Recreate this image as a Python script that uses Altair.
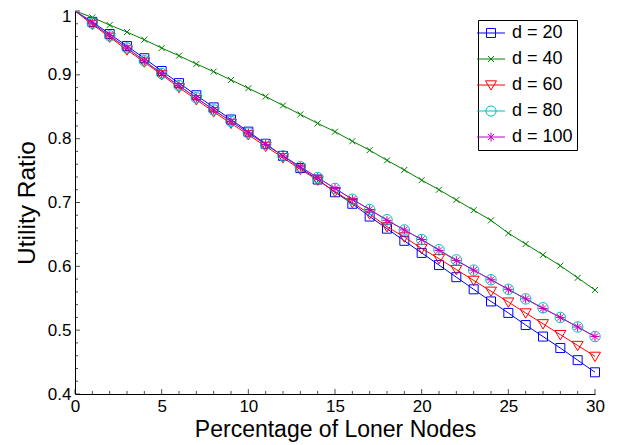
import altair as alt
import pandas as pd

# ---------------- data ----------------
pct_loner = list(range(31))

d20 = [1.0, 0.983, 0.964, 0.945, 0.926, 0.906, 0.887, 0.868, 0.849, 0.830, 0.811,
       0.792, 0.773, 0.754, 0.736, 0.716, 0.698, 0.678, 0.659, 0.640, 0.621,
       0.602, 0.583, 0.564, 0.545, 0.527, 0.508, 0.490, 0.472, 0.453, 0.434]
d40 = [1.0, 0.990, 0.978, 0.967, 0.955, 0.942, 0.930, 0.917, 0.905, 0.892, 0.879,
       0.866, 0.852, 0.838, 0.824, 0.811, 0.796, 0.782, 0.766, 0.751, 0.735,
       0.720, 0.704, 0.688, 0.672, 0.652, 0.635, 0.618, 0.601, 0.582, 0.563]
d60 = [1.0, 0.979, 0.959, 0.939, 0.920, 0.900, 0.880, 0.861, 0.842, 0.824, 0.806,
       0.788, 0.770, 0.752, 0.735, 0.717, 0.700, 0.682, 0.662, 0.646, 0.628,
       0.612, 0.595, 0.578, 0.561, 0.544, 0.527, 0.510, 0.493, 0.476, 0.459]
d80 = [1.0, 0.981, 0.961, 0.942, 0.922, 0.902, 0.883, 0.864, 0.845, 0.827, 0.809,
       0.791, 0.773, 0.756, 0.739, 0.722, 0.705, 0.689, 0.673, 0.657, 0.642,
       0.626, 0.610, 0.594, 0.579, 0.564, 0.549, 0.535, 0.520, 0.505, 0.490]
d100 = [1.0, 0.981, 0.961, 0.942, 0.922, 0.902, 0.883, 0.864, 0.845, 0.827, 0.809,
        0.791, 0.773, 0.756, 0.739, 0.722, 0.705, 0.689, 0.672, 0.657, 0.642,
        0.625, 0.609, 0.594, 0.579, 0.564, 0.549, 0.534, 0.520, 0.505, 0.490]

series_names = ["d = 20", "d = 40", "d = 60", "d = 80", "d = 100"]
series_values = [d20, d40, d60, d80, d100]
series_colors = ["#0000ff", "#008000", "#ff0000", "#00bfbf", "#bf00bf"]

x_major = [0, 5, 10, 15, 20, 25, 30]
x_minor = [v for v in range(31) if v % 5 != 0]
y_major = [0.4, 0.5, 0.6, 0.7, 0.8, 0.9, 1.0]
y_minor = [round(0.4 + 0.02 * i, 2) for i in range(31) if i % 5 != 0]

# ---------------- styling ----------------
W, H = 520, 383
FONT = "Liberation Sans"

marker_shapes = [
    "square",
    "M-1,-1L1,1M-1,1L1,-1",
    "M-1,-0.75H1L0,0.95Z",
    "circle",
    "M0,-1V1M-1,0H1M-0.7,-0.7L0.7,0.7M-0.7,0.7L0.7,-0.7",
]
marker_sizes = [81, 36, 121, 110, 81]

# legend symbols: unit = 6 px (symbolSize 144), line spans 28 px
legend_shapes = [
    "M-2.33,0H2.33M-0.75,-0.75H0.75V0.75H-0.75Z",
    "M-2.33,0H2.33M-0.5,-0.5L0.5,0.5M-0.5,0.5L0.5,-0.5",
    "M-2.33,0H2.33M-0.92,-0.7H0.92L0,0.85Z",
    "M-2.33,0H2.33M-0.85,0A0.85,0.85,0,1,0,0.85,0A0.85,0.85,0,1,0,-0.85,0",
    "M-2.33,0H2.33M0,-0.75V0.75M-0.53,-0.53L0.53,0.53M-0.53,0.53L0.53,-0.53",
]

rows = []
for name, vals in zip(series_names, series_values):
    for xv, yv in zip(pct_loner, vals):
        rows.append({"x": xv, "y": yv, "series": name})
df = pd.DataFrame(rows)

xs = alt.Scale(domain=[0, 30], nice=False, zero=False)
ys = alt.Scale(domain=[0.4, 1.0], nice=False, zero=False)

x_axis = alt.Axis(values=x_major, ticks=False, grid=False, domainColor="black",
                  labelFontSize=17, labelPadding=4, labelFlush=False,
                  labelColor="black", labelFont=FONT,
                  title="Percentage of Loner Nodes", titleFontSize=23,
                  titleFontWeight="normal", titleFont=FONT, titleColor="black",
                  titlePadding=4)
y_axis = alt.Axis(values=y_major, ticks=False, grid=False, domainColor="black",
                  labelFontSize=17, labelPadding=4, labelFlush=False,
                  labelColor="black", labelFont=FONT,
                  labelOffset={"condition": {"test": "datum.value == 1", "value": 5}, "value": 0},
                  labelExpr="datum.value == 1 ? '1' : format(datum.value, '.1f')",
                  title="Utility Ratio", titleFontSize=24.5,
                  titleFontWeight="normal", titleFont=FONT, titleColor="black",
                  titlePadding=8)

X = alt.X("x:Q", scale=xs, axis=x_axis)
Y = alt.Y("y:Q", scale=ys, axis=y_axis)

layers = []
for name, col, shp, sz in zip(series_names, series_colors, marker_shapes, marker_sizes):
    sub = alt.Chart(df).transform_filter(alt.datum.series == name)
    layers.append(sub.mark_line(color=col, strokeWidth=1, clip=True).encode(x=X, y=Y))
    layers.append(
        sub.transform_filter(alt.datum.x >= 1)
        .mark_point(shape=shp, size=sz, color=col, filled=False, strokeWidth=1, opacity=1)
        .encode(x=X, y=Y)
    )

# legend-only layer (no visible data)
legend_layer = (
    alt.Chart(df)
    .transform_filter(alt.datum.x < 0)
    .mark_point(filled=False, strokeWidth=1)
    .encode(
        x=X, y=Y,
        color=alt.Color("series:N", scale=alt.Scale(domain=series_names, range=series_colors),
                        legend=alt.Legend(title=None)),
        shape=alt.Shape("series:N", scale=alt.Scale(domain=series_names, range=legend_shapes),
                        legend=alt.Legend(title=None)),
    )
)

# inward tick marks
ticks_xM = alt.Chart(pd.DataFrame({"x": x_major})).mark_tick(
    orient="vertical", size=5, thickness=1, color="black").encode(x=X, y=alt.value(H - 2.5))
ticks_xm = alt.Chart(pd.DataFrame({"x": x_minor})).mark_tick(
    orient="vertical", size=3, thickness=1, color="black").encode(x=X, y=alt.value(H - 1.5))
ticks_yM = alt.Chart(pd.DataFrame({"y": y_major})).mark_tick(
    orient="horizontal", size=5, thickness=1, color="black").encode(y=Y, x=alt.value(2.5))
ticks_ym = alt.Chart(pd.DataFrame({"y": y_minor})).mark_tick(
    orient="horizontal", size=3, thickness=1, color="black").encode(y=Y, x=alt.value(1.5))

chart = (
    alt.layer(ticks_xM, ticks_xm, ticks_yM, ticks_ym, *layers, legend_layer)
    .properties(width=W, height=H, autosize="none",
                padding={"left": 67, "top": 3, "right": 15, "bottom": 48})
    .configure_view(stroke=None)
    .configure_legend(
        orient="none", legendX=403, legendY=9,
        strokeColor="black", fillColor="white", padding=4,
        symbolSize=144, symbolStrokeWidth=1, symbolOpacity=1,
        labelFontSize=18, labelFont=FONT, labelColor="black", labelOffset=12,
        rowPadding=8, symbolFillColor="transparent",
    )
)

chart.save("out.html", embed_options={"renderer": "svg", "actions": False})
